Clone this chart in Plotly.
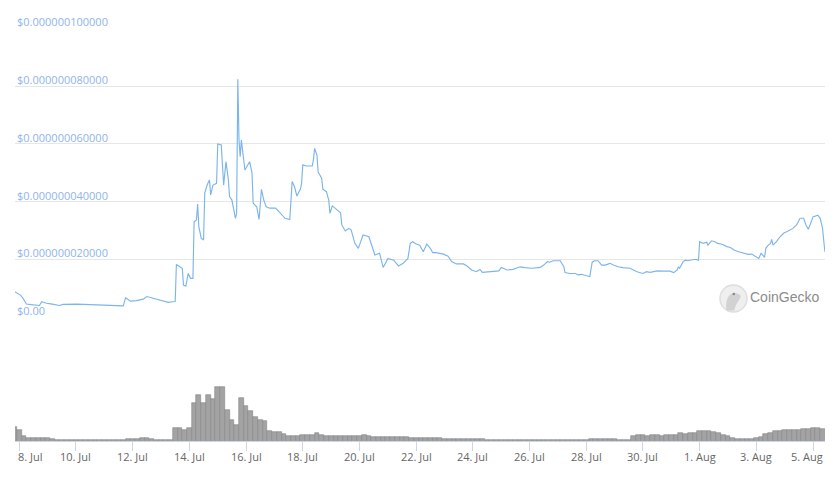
import pandas as pd
import plotly.graph_objects as go

# ---------------- data ----------------
base = pd.Timestamp("2021-07-08 00:00")

# price: hours since 8 Jul 00:00 and price in units of 1e-9 USD
price_hours = (
    [-4, 1, 3, 6, 12, 17, 19, 23, 28, 34, 37, 49, 60, 68, 88, 90, 94, 99, 105, 108, 113, 122, 126, 130, 132]
    + [133, 138, 139, 141, 143, 145, 147, 148, 150, 151, 152, 154, 156, 157, 159, 161, 162, 164, 167]
    + [168, 171, 173, 175, 177, 178, 180, 183, 184, 185, 186, 187, 188, 191, 194, 195, 197, 198, 201, 203,
       205, 207, 209, 212, 217, 221, 225, 229]
    + [231, 233, 235, 238, 239, 240, 243, 248, 249, 250, 252, 253, 256, 257, 260, 262, 263, 265, 269, 272,
       273, 276, 279, 281, 284, 287, 288, 291, 296, 298]
    + [301, 305, 308, 310, 312, 317, 321, 325, 329, 331, 333, 336, 339, 342, 345, 348, 350, 353, 359, 363,
       366, 370, 376, 379, 383, 387, 390, 392, 396, 401, 406, 408, 413, 418, 424, 428, 434, 441, 444, 447,
       449, 452, 458, 461, 462, 466, 471, 473, 476, 480, 483, 485, 487, 490, 493, 496, 500, 503, 507, 511]
    + [517, 520, 523, 528, 531, 534, 540, 545, 551, 554, 557, 558, 559, 562, 564, 566, 569, 572, 575, 576,
       579, 582, 583, 586, 589, 591, 595, 599, 602, 605, 609, 613, 617, 620, 623, 626, 628, 629, 631, 632,
       634, 636, 637, 638, 641, 644, 647, 650, 653, 655, 658, 661, 664, 666, 668, 670, 672, 676, 678, 680,
       681, 682]
)
price_nano = (
    [8.8, 7.6, 6.6, 4.5, 4.2, 4.0, 5.3, 4.8, 4.5, 4.0, 4.4, 4.5, 4.3, 4.2, 3.9, 6.7, 5.5, 5.7, 6.2, 7.1, 6.5, 5.5, 5.1, 5.3, 5.4]
    + [18.2, 16.9, 11.1, 10.7, 15.1, 13.4, 13.4, 33.0, 33.6, 39.1, 31.3, 27.3, 26.7, 42.9, 45.7, 47.5, 42.3, 45.7, 46.3]
    + [59.9, 59.6, 45.7, 53.8, 47.5, 41.7, 40.5, 34.2, 35.9, 82.3, 61.3, 55.5, 61.3, 50.9, 53.2, 53.8, 49.9, 39.4, 38.2, 33.8,
       44.2, 40.5, 38.2, 37.7, 37.7, 35.9, 34.2, 33.8]
    + [46.9, 45.1, 41.9, 44.3, 46.3, 52.7, 52.3, 52.3, 54.4, 58.4, 56.1, 50.2, 48.1, 44.3, 43.4, 40.5, 35.9, 38.5, 37.1, 36.1,
       31.9, 29.8, 30.7, 30.1, 25.6, 23.8, 24.9, 28.4, 27.8, 25.5]
    + [21.5, 22.1, 17.2, 18.6, 20.3, 19.7, 17.7, 18.6, 20.3, 25.5, 26.1, 25.3, 24.9, 22.6, 25.3, 23.8, 22.3, 22.3, 21.8, 21.1,
       19.2, 18.4, 18.4, 17.7, 16.3, 15.7, 16.5, 15.5, 15.7, 16.0, 16.0, 17.2, 16.3, 16.5, 17.4, 17.1, 16.9, 17.2, 18.0, 19.2,
       19.0, 19.5, 19.5, 17.4, 15.4, 15.1, 15.1, 14.6, 14.8, 14.3, 14.0, 19.0, 19.5, 19.5, 18.0, 18.0, 18.6, 18.0, 17.4, 17.1]
    + [16.9, 16.3, 15.7, 15.1, 15.7, 15.5, 16.0, 15.9, 15.9, 15.4, 16.3, 17.4, 16.9, 19.2, 19.7, 19.5, 19.7, 20.0, 19.7, 26.1,
       25.5, 25.9, 24.9, 26.4, 26.1, 25.5, 25.2, 24.4, 24.1, 23.2, 22.6, 22.1, 21.7, 21.8, 21.1, 20.3, 22.1, 21.5, 20.7, 23.8,
       24.9, 25.5, 26.9, 24.9, 26.1, 27.8, 29.0, 29.6, 30.1, 30.7, 31.9, 34.2, 34.2, 31.9, 30.4, 32.5, 34.7, 35.3, 34.2, 30.7,
       26.1, 22.6]
)

# volume: 4-hourly bars (relative units)
volume_hours = list(range(-4, 684, 4))
volume = [
    14, 11, 5, 3.5, 3.3, 3.3, 3.0, 3.3, 2.5, 1.5,
    1.3, 1.5, 1.2, 1.0, 1.0, 1.0, 1.0, 1.0, 1.0, 1.0,
    1.0, 1.0, 1.2, 1.5, 2.0, 2.2, 2.3, 2.7, 2.8, 2.2,
    1.2, 1.0, 1.0, 1.0, 13.3, 13.3, 11, 13.3, 37.7, 46,
    38, 46, 42, 54.3, 54.3, 31, 21, 16, 43, 35,
    30, 24.5, 21, 20, 10.5, 9.5, 9, 7.5, 5.5, 5,
    5.5, 6, 6.2, 6.5, 7.7, 6, 5.5, 5, 4.8, 4.7,
    4.7, 4.7, 4.7, 5.2, 6, 5, 4.5, 4, 4, 4,
    4, 4, 3.8, 3.8, 3.5, 3.0, 2.8, 2.7, 2.7, 2.7,
    2.7, 2.5, 2.2, 1.8, 1.7, 1.7, 1.8, 1.7, 1.7, 1.6,
    1.5, 1.3, 1.2, 1.0, 0.8, 0.7, 0.7, 0.7, 0.7, 0.7,
    0.7, 0.7, 0.7, 0.7, 0.7, 0.7, 0.7, 0.7, 0.7, 0.7,
    0.8, 0.8, 1.8, 2.0, 2.0, 2.0, 2.0, 1.8, 1.5, 0.7,
    0.7, 5.5, 5.7, 5.7, 5.5, 5.7, 5.8, 5.5, 5.8, 5.7,
    6, 8, 7.5, 8.2, 8, 10, 10, 9.7, 9, 8,
    6.5, 5, 3.5, 2.3, 2, 2, 2, 3, 4.5, 7,
    8.5, 10, 10.5, 10.7, 11, 11, 11.5, 12, 12.5, 13.3,
    13, 12,
]

tick_dates = ["2021-07-08", "2021-07-10", "2021-07-12", "2021-07-14", "2021-07-16", "2021-07-18",
              "2021-07-20", "2021-07-22", "2021-07-24", "2021-07-26", "2021-07-28", "2021-07-30",
              "2021-08-01", "2021-08-03", "2021-08-05"]
tick_labels = ["8. Jul", "10. Jul", "12. Jul", "14. Jul", "16. Jul", "18. Jul", "20. Jul", "22. Jul",
               "24. Jul", "26. Jul", "28. Jul", "30. Jul", "1. Aug", "3. Aug", "5. Aug"]

y_ticks = [0, 20, 40, 60, 80, 100]
y_labels = ["$0.00", "$0.000000020000", "$0.000000040000", "$0.000000060000",
            "$0.000000080000", "$0.000000100000"]

# ---------------- figure ----------------
price_times = base + pd.to_timedelta(price_hours, unit="h")
vol_times = base + pd.to_timedelta(volume_hours, unit="h")

# the page body has an 8px margin: figure is 8px smaller and all positions are shifted by 8px
OFF = 8
W, H = 837 - OFF, 482 - OFF
FONT = "Open Sans"


def px(x):
    return (x - OFF) / W


def py(y):
    return 1 - (y - OFF) / H


fig = go.Figure()

fig.add_trace(go.Bar(
    x=vol_times, y=volume, xaxis="x", yaxis="y",
    marker=dict(color="#a3a3a3", line=dict(color="#858585", width=0.6)),
    hoverinfo="skip",
))
fig.add_trace(go.Scatter(
    x=price_times, y=price_nano, xaxis="x2", yaxis="y2", mode="lines",
    line=dict(color="#7cb5ec", width=1.15), hoverinfo="skip",
))

x_dom = [px(15), px(825)]
x_range = ["2021-07-07 20:22", "2021-08-05 10:06"]

fig.update_layout(
    width=W, height=H, autosize=False,
    margin=dict(l=0, r=0, t=0, b=0, autoexpand=False),
    paper_bgcolor="white", plot_bgcolor="white",
    showlegend=False, bargap=0,
    font=dict(family=FONT, size=11, color="#666666"),
    xaxis=dict(
        domain=x_dom, range=x_range, type="date", anchor="y", automargin=False,
        tickmode="array", tickvals=tick_dates, showticklabels=False,
        ticks="outside", ticklen=9, tickwidth=1, tickcolor="#ccd6eb",
        showline=True, linecolor="#ccd6eb", linewidth=1,
        showgrid=False, zeroline=False,
    ),
    yaxis=dict(domain=[py(441), py(386)], range=[0, 55], visible=False,
               fixedrange=True, automargin=False),
    xaxis2=dict(domain=x_dom, range=x_range, type="date", anchor="y2", matches="x",
                visible=False, showgrid=False, automargin=False),
    yaxis2=dict(domain=[py(317.5), py(27.8)], range=[-0.15, 100.15], anchor="x2",
                tickmode="array", tickvals=y_ticks, showticklabels=False, automargin=False,
                showgrid=True, gridcolor="#e6e6e6", gridwidth=1, zeroline=False,
                showline=False),
)

# x tick labels (first and last are kept inside the plot edges, as in the original)
n_ticks = len(tick_dates)
for i, (d, lab) in enumerate(zip(tick_dates, tick_labels)):
    if i == 0:
        kw = dict(x=px(15.5), xref="paper", xanchor="left")
    elif i == n_ticks - 1:
        kw = dict(x=px(825), xref="paper", xanchor="right")
    else:
        kw = dict(x=d, xref="x", xanchor="center")
    fig.add_annotation(text=lab, y=py(456), yref="paper", yanchor="middle", showarrow=False,
                       font=dict(family=FONT, size=11, color="#666666"), **kw)

for v, lab in zip(y_ticks, y_labels):
    fig.add_annotation(
        x=px(15), xref="paper", y=v, yref="y2", text=lab, showarrow=False,
        xanchor="left", yanchor="bottom", yshift=-3,
        font=dict(family=FONT, size=11, color="#8fb5ea"),
    )

# CoinGecko watermark
cx, cy, r = 733.5, 298.5, 13.5
fig.add_shape(type="circle", xref="paper", yref="paper",
              x0=px(cx - r), x1=px(cx + r), y0=py(cy + r), y1=py(cy - r),
              fillcolor="#efefef", line=dict(color="#dedede", width=1.5), layer="above")
fig.add_shape(type="path", xref="paper", yref="paper",
              path=("M {a},{b} C {c},{d} {e},{f} {g},{h} C {i},{j} {k},{l} {m},{n} Z").format(
                  a=px(cx - 7), b=py(cy + 12),
                  c=px(cx - 9), d=py(cy - 2),
                  e=px(cx - 2), f=py(cy - 9),
                  g=px(cx + 6), h=py(cy - 4),
                  i=px(cx + 10), j=py(cy - 1),
                  k=px(cx + 2), l=py(cy + 3),
                  m=px(cx + 1), n=py(cy + 12)),
              fillcolor="#d2d2d2", line=dict(width=0), layer="above")
fig.add_shape(type="circle", xref="paper", yref="paper",
              x0=px(cx - 1), x1=px(cx + 1.6), y0=py(cy - 3.2), y1=py(cy - 5.8),
              fillcolor="#8a8a8a", line=dict(width=0), layer="above")
fig.add_annotation(x=px(748), xref="paper", y=py(297), yref="paper", text="CoinGecko",
                   showarrow=False, xanchor="left", yanchor="middle",
                   font=dict(family="Liberation Sans", size=14, color="#8c8c8c"))

fig.write_html("out.html")
